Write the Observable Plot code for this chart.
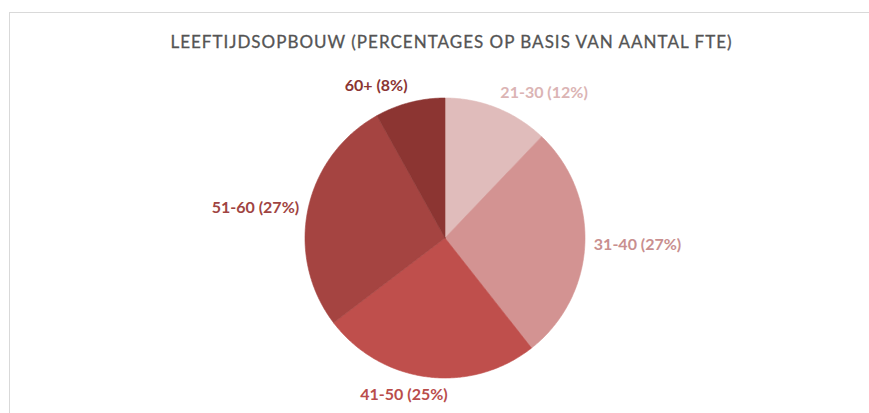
<!DOCTYPE html>
<html><head><meta charset="utf-8">
<script src="https://cdn.jsdelivr.net/npm/d3@7"></script>
<script src="https://cdn.jsdelivr.net/npm/@observablehq/plot@0.6"></script>
<style>
body{margin:0;background:#fff;}
#wrap{position:relative;width:869px;height:413px;overflow:hidden;font-family:Lato,"Open Sans",sans-serif;background:#fff;}
#frame{position:absolute;left:9px;top:12px;width:900px;height:450px;border:1px solid #d9d9d9;box-sizing:border-box;}
#title{position:absolute;left:17px;top:32px;width:869px;text-align:center;font-size:17px;line-height:20px;color:#545454;white-space:nowrap;-webkit-text-stroke:0.3px #545454;}
#chart{position:absolute;left:0;top:58px;}
</style></head>
<body>
<div id="wrap">
  <div id="frame"></div>
  <div id="title"><span id="tt">LEEFTIJDSOPBOUW (PERCENTAGES OP BASIS VAN AANTAL FTE)</span></div>
  <div id="chart"></div>
</div>
<script>
// ---- data ----
const categories = ["21-30", "31-40", "41-50", "51-60", "60+"];
const percentages = [12, 27, 25, 27, 8];

// ---- styles ----
const sliceColors = ["#e0bcbb", "#d39392", "#bf4f4c", "#a54441", "#8c3532"];
const labelColors = ["#dbb4b4", "#c98f8f", "#b94d4b", "#a04442", "#8a3533"];

// fit title width to the reference layout (~562px)
const tt = document.getElementById("tt");
const tw = tt.getBoundingClientRect().width;
const nch = tt.textContent.length;
tt.style.letterSpacing = ((562 - tw) / nch).toFixed(2) + "px";

const W = 869, H = 355;
const cx = 444.5, cy = 179.5, R = 140;
const fs = 16;
const font = `bold ${fs}px Lato`;

const data = categories.map((c, i) => ({cat: c, value: percentages[i]}));
const arcs = d3.pie().sort(null).value(d => d.value)(data);

// polygon points for each slice (unit circle, y up, clockwise from top)
const pts = [];
arcs.forEach(a => {
  pts.push({cat: a.data.cat, x: 0, y: 0});
  const n = Math.max(2, Math.ceil((a.endAngle - a.startAngle) / 0.01));
  for (let k = 0; k <= n; k++) {
    const t = a.startAngle + (a.endAngle - a.startAngle) * k / n;
    pts.push({cat: a.data.cat, x: Math.sin(t), y: Math.cos(t)});
  }
  pts.push({cat: a.data.cat, x: 0, y: 0});
});

// label placement (outside end)
const ctx = document.createElement("canvas").getContext("2d");
ctx.font = font;
const gap = 9, lh = 15;
const labels = arcs.map((a, i) => {
  const text = `${a.data.cat} (${a.data.value}%)`;
  const w = ctx.measureText(text).width;
  const m = (a.startAngle + a.endAngle) / 2;
  const ux = Math.sin(m), uy = Math.cos(m);
  const ax = ux * (R + gap), ay = uy * (R + gap);
  const ox = (w / 2) * Math.max(-1, Math.min(1, ux * 4));
  const oy = (lh / 2) * Math.pow(uy, 3) * 1.2;
  return {text, cat: a.data.cat, x: (ax + ox) / R, y: (ay + oy) / R, color: labelColors[i]};
});

const chart = Plot.plot({
  width: W, height: H,
  marginTop: 0, marginRight: 0, marginBottom: 0, marginLeft: 0,
  style: {background: "transparent", overflow: "visible"},
  x: {domain: [-1, 1], range: [cx - R, cx + R], axis: null},
  y: {domain: [-1, 1], range: [cy + R, cy - R], axis: null},
  color: {domain: categories, range: sliceColors},
  marks: [
    Plot.line(pts, {x: "x", y: "y", z: "cat", fill: "cat", stroke: "cat", strokeWidth: 0.6, curve: "linear"}),
    Plot.text(labels, {x: "x", y: "y", text: "text", fill: d => d.color, fontSize: fs, fontWeight: "bold",
      fontFamily: "Lato", textAnchor: "middle", lineAnchor: "middle"})
  ]
});
document.getElementById("chart").appendChild(chart);
</script>
</body></html>
